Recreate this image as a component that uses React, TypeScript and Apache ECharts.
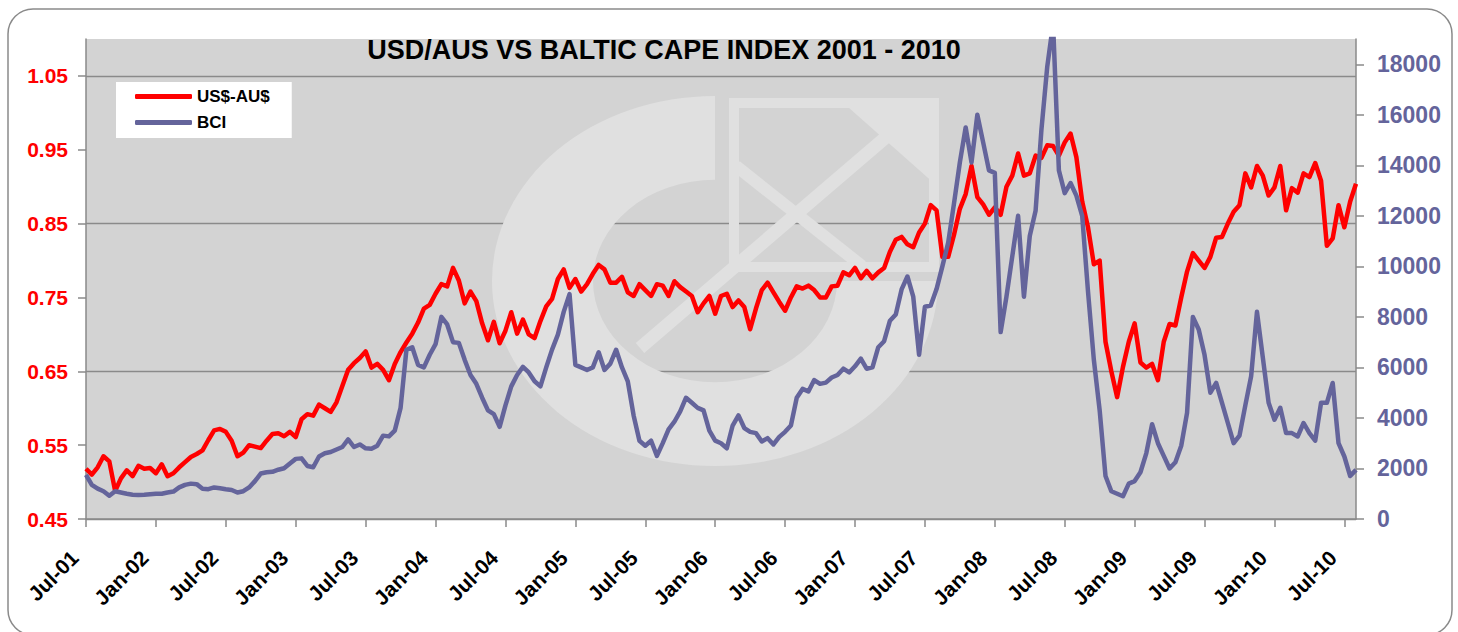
import React, { useEffect, useRef } from "react";
import * as echarts from "echarts";

// Time grid: half-month steps starting July 2001 (month index 0)
const START_YEAR = 2001;
const START_MONTH = 6; // 0-based, July
const STEP_MONTHS = 0.5;
const MONTH_NAMES = ["Jan", "Feb", "Mar", "Apr", "May", "Jun", "Jul", "Aug", "Sep", "Oct", "Nov", "Dec"];

// US$ per AU$ (left axis)
const usdAud: number[] = [
  0.518, 0.510, 0.520, 0.535, 0.528, 0.488, 0.505, 0.516, 0.508, 0.522, 0.518, 0.519,
  0.512, 0.524, 0.508, 0.512, 0.520, 0.527, 0.534, 0.538, 0.543, 0.557, 0.570, 0.572,
  0.568, 0.556, 0.535, 0.540, 0.550, 0.548, 0.546, 0.556, 0.565, 0.566, 0.562, 0.568,
  0.561, 0.585, 0.592, 0.590, 0.605, 0.600, 0.595, 0.608, 0.630, 0.652, 0.661, 0.668,
  0.677, 0.655, 0.660, 0.652, 0.638, 0.660, 0.676, 0.689, 0.701, 0.716, 0.735, 0.740,
  0.755, 0.768, 0.765, 0.790, 0.773, 0.742, 0.758, 0.745, 0.715, 0.692, 0.717, 0.688,
  0.705, 0.730, 0.701, 0.720, 0.700, 0.695, 0.718, 0.738, 0.748, 0.775, 0.788, 0.763,
  0.775, 0.758, 0.768, 0.782, 0.794, 0.788, 0.770, 0.770, 0.778, 0.757, 0.752, 0.768,
  0.760, 0.752, 0.768, 0.766, 0.752, 0.772, 0.764, 0.758, 0.752, 0.730, 0.742, 0.752,
  0.728, 0.752, 0.755, 0.737, 0.746, 0.737, 0.707, 0.735, 0.760, 0.770, 0.757, 0.744,
  0.732, 0.750, 0.765, 0.762, 0.766, 0.760, 0.750, 0.750, 0.765, 0.766, 0.784, 0.780,
  0.790, 0.776, 0.786, 0.776, 0.784, 0.790, 0.812, 0.828, 0.832, 0.822, 0.818, 0.838,
  0.850, 0.875, 0.868, 0.805, 0.805, 0.835, 0.870, 0.890, 0.928, 0.886, 0.876, 0.862,
  0.872, 0.862, 0.900, 0.915, 0.945, 0.915, 0.918, 0.942, 0.939, 0.956, 0.955, 0.942,
  0.960, 0.972, 0.940, 0.880, 0.845, 0.795, 0.800, 0.690, 0.650, 0.615, 0.656, 0.690,
  0.715, 0.662, 0.655, 0.660, 0.638, 0.690, 0.714, 0.712, 0.750, 0.785, 0.810, 0.800,
  0.790, 0.805, 0.831, 0.832, 0.850, 0.866, 0.875, 0.918, 0.899, 0.928, 0.915, 0.888,
  0.899, 0.928, 0.868, 0.898, 0.892, 0.918, 0.913, 0.932, 0.908, 0.820, 0.830, 0.875,
  0.845, 0.880, 0.904,
];

// Baltic Cape Index (right axis)
const bci: number[] = [
  1746, 1350, 1200, 1100, 920, 1100, 1050, 1000, 960, 950, 960, 980,
  1000, 1000, 1050, 1085, 1250, 1350, 1400, 1380, 1200, 1180, 1250, 1220,
  1180, 1150, 1050, 1100, 1250, 1500, 1800, 1850, 1870, 1950, 2010, 2200,
  2380, 2400, 2100, 2050, 2474, 2600, 2650, 2750, 2850, 3150, 2850, 2950,
  2800, 2780, 2900, 3300, 3270, 3500, 4400, 6700, 6800, 6100, 6000, 6500,
  6920, 8000, 7700, 7000, 6971, 6300, 5700, 5350, 4800, 4300, 4150, 3650,
  4500, 5250, 5700, 6020, 5800, 5450, 5250, 6000, 6706, 7300, 8200, 8900,
  6100, 6000, 5900, 6000, 6600, 5900, 6150, 6700, 6000, 5450, 4100, 3100,
  2900, 3100, 2500, 3003, 3550, 3850, 4258, 4800, 4600, 4400, 4300, 3500,
  3100, 3000, 2800, 3700, 4100, 3600, 3450, 3400, 3069, 3200, 2950, 3250,
  3450, 3700, 4800, 5150, 5050, 5500, 5350, 5400, 5600, 5700, 5950, 5800,
  6045, 6350, 5950, 6000, 6800, 7037, 7850, 8095, 9087, 9600, 8800, 6500,
  8400, 8450, 9100, 10000, 10940, 12500, 14114, 15500, 14114, 16000, 14909, 13800,
  13700, 7400, 8800, 10400, 12000, 8800, 11200, 12200, 15400, 17900, 19600, 13800,
  12900, 13300, 12800, 12000, 9000, 6300, 4300, 1700, 1100, 1000, 900, 1400,
  1500, 1850, 2600, 3750, 3000, 2500, 2000, 2250, 2900, 4200, 8000, 7500,
  6500, 5000, 5385, 4600, 3800, 3000, 3300, 4500, 5648, 8200, 6400, 4600,
  3929, 4400, 3400, 3400, 3267, 3800, 3400, 3100, 4600, 4600, 5385, 3000,
  2474, 1700, 1944,
];

// Tick positions / labels
const leftTicks: number[] = [0.45, 0.55, 0.65, 0.75, 0.85, 0.95, 1.05];
const rightTicks: number[] = [0, 2000, 4000, 6000, 8000, 10000, 12000, 14000, 16000, 18000];
const xTicks: number[] = [0, 6, 12, 18, 24, 30, 36, 42, 48, 54, 60, 66, 72, 78, 84, 90, 96, 102, 108];

const FONT = "'Liberation Sans', Arial, sans-serif";
const RED = "#ff0000";
const SLATE = "#64649b";
const GRID_GRAY = "#8a8a8a";
const WM = "#e0e0e0";

function monthLabel(m: number): string {
  const total = START_MONTH + m;
  const year = START_YEAR + Math.floor(total / 12);
  const month = ((total % 12) + 12) % 12;
  return MONTH_NAMES[month] + "-" + String(year % 100).padStart(2, "0");
}

export default function App() {
  const ref = useRef<HTMLDivElement>(null);

  useEffect(() => {
    document.body.style.margin = "0";
    const chart = echarts.init(ref.current as HTMLDivElement, null, { renderer: "svg" });

    const usdData = usdAud.map((v, i) => [i * STEP_MONTHS, v]);
    const bciData = bci.map((v, i) => [i * STEP_MONTHS, v]);

    const option: any = {
      animation: false,
      backgroundColor: "#ffffff",
      grid: {
        left: 86,
        right: 102,
        top: 39,
        bottom: 113,
        show: true,
        backgroundColor: "#d3d3d3",
        borderWidth: 0,
      },
      legend: {
        data: [
          { name: "US$-AU$", icon: "roundRect" },
          { name: "BCI", icon: "roundRect" },
        ],
        orient: "vertical",
        left: 116,
        top: 82,
        itemWidth: 57,
        itemHeight: 5,
        itemGap: 9,
        padding: [6, 22, 7, 19],
        backgroundColor: "#ffffff",
        textStyle: { fontSize: 17, fontWeight: "bold", color: "#000", fontFamily: FONT },
      },
      xAxis: {
        type: "value",
        min: 0,
        max: 109,
        interval: 6,
        axisLine: { show: true, onZero: false, lineStyle: { color: GRID_GRAY, width: 1.5 } },
        axisTick: { show: true, customValues: xTicks, length: 8, lineStyle: { color: GRID_GRAY, width: 1.5 } },
        splitLine: { show: false },
        axisLabel: {
          customValues: xTicks,
          rotate: 45,
          margin: 24,
          padding: [0, 16, 0, 0],
          formatter: (v: number) => monthLabel(v),
          fontSize: 21,
          fontWeight: "bold",
          color: "#000",
          fontFamily: FONT,
        },
      },
      yAxis: [
        {
          type: "value",
          position: "left",
          min: 0.45,
          max: 1.1,
          interval: 0.05,
          axisLine: { show: true, lineStyle: { color: GRID_GRAY, width: 1.5 } },
          axisTick: { show: true, customValues: leftTicks, length: 8, lineStyle: { color: GRID_GRAY, width: 1.5 } },
          splitLine: {
            show: true,
            lineStyle: { color: [GRID_GRAY, "rgba(0,0,0,0)"], width: 1.3 },
          },
          axisLabel: {
            customValues: leftTicks,
            formatter: (v: number) => v.toFixed(2),
            margin: 18,
            fontSize: 21,
            fontWeight: "bold",
            color: RED,
            fontFamily: FONT,
          },
        },
        {
          type: "value",
          position: "right",
          min: 0,
          max: 19000,
          interval: 1000,
          axisLine: { show: true, lineStyle: { color: GRID_GRAY, width: 1.5 } },
          axisTick: { show: true, customValues: rightTicks, length: 8, lineStyle: { color: GRID_GRAY, width: 1.5 } },
          splitLine: { show: false },
          axisLabel: {
            customValues: rightTicks,
            formatter: (v: number) => String(Math.round(v)),
            margin: 21,
            fontSize: 23,
            fontWeight: "bold",
            color: SLATE,
            fontFamily: FONT,
          },
        },
      ],
      graphic: [
        {
          type: "sector",
          x: 715,
          y: 281,
          scaleY: 0.83,
          shape: { cx: 0, cy: 0, r: 223, r0: 122, startAngle: 0, endAngle: Math.PI * 1.5, clockwise: true },
          style: { fill: WM },
          z: 1,
          silent: true,
        },
        {
          type: "rect",
          shape: { x: 734, y: 103, width: 200, height: 164 },
          style: { fill: "none", stroke: WM, lineWidth: 10 },
          z: 1,
          silent: true,
        },
        {
          type: "polygon",
          shape: { points: [[840, 100], [936, 100], [936, 185]] },
          style: { fill: WM },
          z: 1,
          silent: true,
        },
        {
          type: "line",
          shape: { x1: 640, y1: 348, x2: 885, y2: 138 },
          style: { stroke: WM, lineWidth: 13 },
          z: 1,
          silent: true,
        },
        {
          type: "line",
          shape: { x1: 736, y1: 166, x2: 862, y2: 266 },
          style: { stroke: WM, lineWidth: 12 },
          z: 1,
          silent: true,
        },
        {
          type: "text",
          x: 664,
          y: 50,
          style: {
            text: "USD/AUS VS BALTIC CAPE INDEX 2001 - 2010",
            fontSize: 27,
            fontWeight: "bold",
            fontFamily: FONT,
            fill: "#000",
            align: "center",
            verticalAlign: "middle",
          },
          z: 10,
        },
        {
          type: "rect",
          shape: { x: 8, y: 9, width: 1444, height: 626, r: 25 },
          style: { fill: "none", stroke: "#8a8a8a", lineWidth: 1.5 },
          z: 10,
          silent: true,
        },
      ],
      series: [
        {
          name: "US$-AU$",
          type: "line",
          yAxisIndex: 0,
          data: usdData,
          symbol: "none",
          showSymbol: false,
          lineStyle: { color: RED, width: 4.5, join: "round" },
          itemStyle: { color: RED },
          z: 3,
        },
        {
          name: "BCI",
          type: "line",
          yAxisIndex: 1,
          data: bciData,
          symbol: "none",
          showSymbol: false,
          clip: true,
          lineStyle: { color: SLATE, width: 4.5, join: "round" },
          itemStyle: { color: SLATE },
          z: 3,
        },
      ],
    };

    chart.setOption(option);
    return () => chart.dispose();
  }, []);

  return <div ref={ref} style={{ width: 1458, height: 632 }} />;
}
